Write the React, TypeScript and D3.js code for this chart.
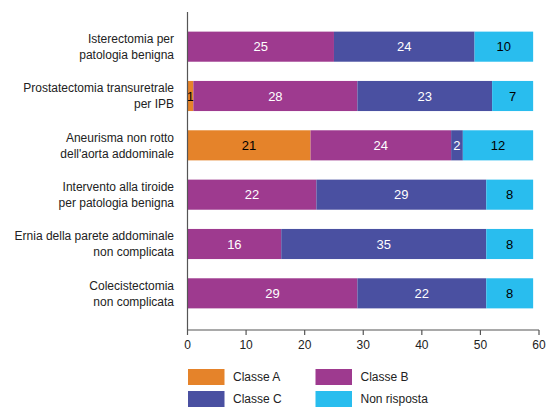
import React from "react";
import * as d3 from "d3";

const categories = [
  ["Isterectomia per", "patologia benigna"],
  ["Prostatectomia transuretrale", "per IPB"],
  ["Aneurisma non rotto", "dell'aorta addominale"],
  ["Intervento alla tiroide", "per patologia benigna"],
  ["Ernia della parete addominale", "non complicata"],
  ["Colecistectomia", "non complicata"],
];
const seriesNames = ["Classe A", "Classe B", "Classe C", "Non risposta"];
const classeA = [0, 1, 21, 0, 0, 0];
const classeB = [25, 28, 24, 22, 16, 29];
const classeC = [24, 23, 2, 29, 35, 22];
const nonRisposta = [10, 7, 12, 8, 8, 8];
const xTicks = [0, 10, 20, 30, 40, 50, 60];

const colors = ["#E5832A", "#9E3A8F", "#4A50A1", "#29BDEE"];
const labelColors = ["#000", "#fff", "#fff", "#000"];
const FONT = "'Liberation Sans', Arial, sans-serif";

export default function App() {
  const W = 546, H = 407;
  const keys = categories.map((c) => c.join(" "));
  const rows = keys.map((k, i) => ({
    key: k,
    "Classe A": classeA[i],
    "Classe B": classeB[i],
    "Classe C": classeC[i],
    "Non risposta": nonRisposta[i],
  }));
  const stack = d3.stack<any>().keys(seriesNames)(rows);
  const x = d3.scaleLinear().domain([0, 60]).range([187.5, 539]);
  const y = d3.scaleBand().domain(keys).range([22, 318]).paddingInner(0.39).paddingOuter(0.195);
  const axisY = 330;

  return (
    <svg width={W} height={H} style={{ position: "absolute", left: 0, top: 0, fontFamily: FONT }}>
      <rect width={W} height={H} fill="#fff" />
      {stack.map((s, si) =>
        s.map((d, i) => {
          const v = d[1] - d[0];
          if (v <= 0) return null;
          const x0 = x(d[0]), x1 = x(d[1]);
          const yy = y(keys[i])!;
          return (
            <g key={si + "-" + i}>
              <rect x={x0} y={yy} width={x1 - x0} height={y.bandwidth()} fill={colors[si]} />
              <text
                x={(x0 + x1) / 2}
                y={yy + y.bandwidth() / 2}
                dy="0.36em"
                textAnchor="middle"
                fontSize={13}
                fill={labelColors[si]}
              >
                {v}
              </text>
            </g>
          );
        })
      )}
      {categories.map((c, i) => {
        const cy = y(keys[i])! + y.bandwidth() / 2;
        return (
          <text key={i} textAnchor="end" fontSize={12} fill="#222">
            <tspan x={174} y={cy - 8} dy="0.36em">{c[0]}</tspan>
            <tspan x={174} y={cy + 8} dy="0.36em">{c[1]}</tspan>
          </text>
        );
      })}
      <line x1={x(0)} x2={x(0)} y1={12} y2={axisY} stroke="#555" strokeWidth={1.2} />
      <line x1={x(0)} x2={x(60)} y1={axisY} y2={axisY} stroke="#555" strokeWidth={1.2} />
      {xTicks.map((t) => (
        <g key={t}>
          <line x1={x(t)} x2={x(t)} y1={axisY} y2={axisY + 5} stroke="#555" strokeWidth={1.2} />
          <text x={x(t)} y={axisY + 15} dy="0.36em" textAnchor="middle" fontSize={12} fill="#222">
            {t}
          </text>
        </g>
      ))}
      {seriesNames.map((n, i) => {
        const col = i % 2 === 0 ? 0 : 1;
        const row = i < 2 ? 0 : 1;
        const order = [0, 1, 2, 3];
        const lx = col === 0 ? 188 : 315.5;
        const ly = row === 0 ? 369 : 391;
        return (
          <g key={n}>
            <rect x={lx} y={ly} width={36.5} height={16} fill={colors[order[i]]} />
            <text x={lx + 45} y={ly + 8} dy="0.36em" fontSize={12} fill="#222">
              {n}
            </text>
          </g>
        );
      })}
    </svg>
  );
}
